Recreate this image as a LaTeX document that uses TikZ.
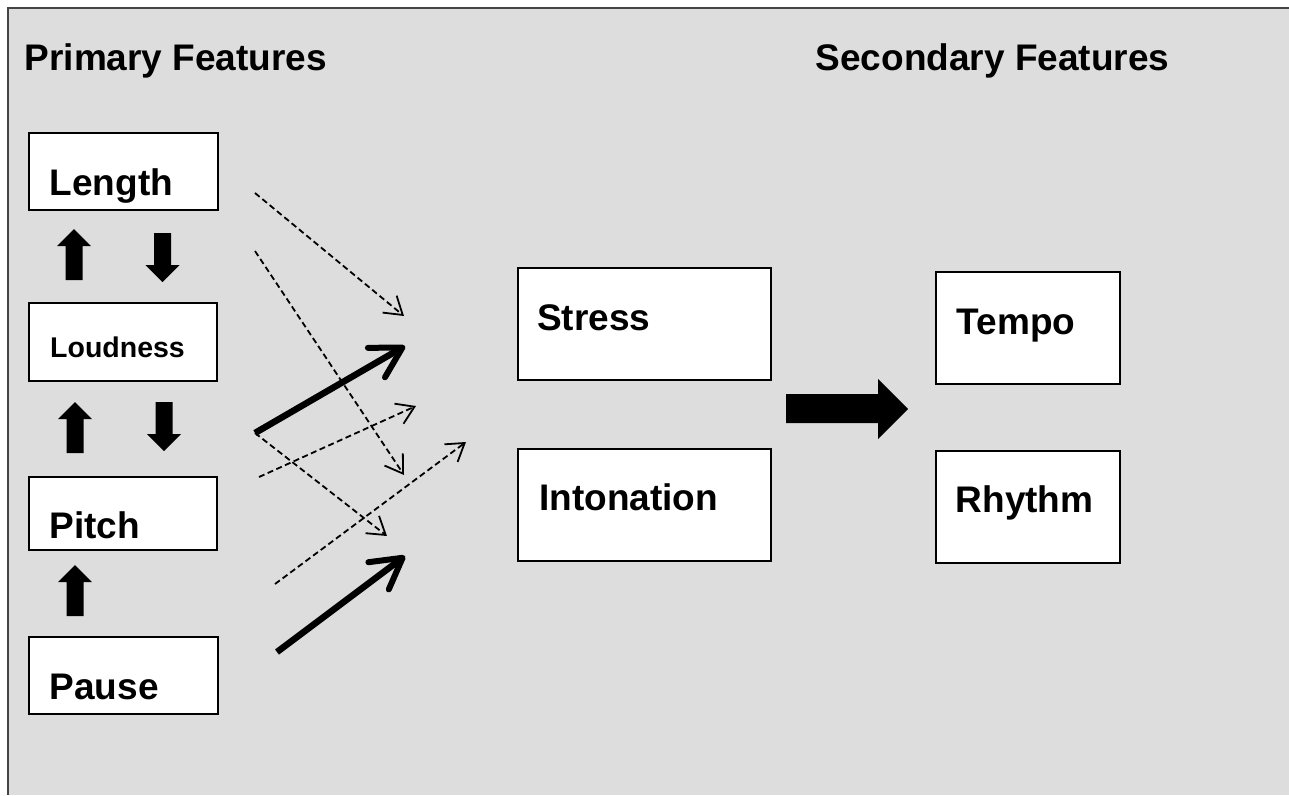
\documentclass[tikz,border=0pt]{standalone}
\usepackage{fontspec}
\setmainfont{Liberation Sans}
\usetikzlibrary{arrows.meta,fit}
\definecolor{bggray}{HTML}{DDDDDD}
\definecolor{frame}{HTML}{444444}
\tikzset{
  box/.style={draw=black, line width=1.8pt, fill=white, inner sep=0pt, rectangle},
  lbl/.style={anchor=base west, inner sep=0pt, font=\bfseries\fontsize{37}{40}\selectfont},
  smalllbl/.style={anchor=base west, inner sep=0pt, font=\bfseries\fontsize{28.5}{32}\selectfont},
  dasharrow/.style={line width=1.8pt, dash pattern=on 6pt off 3.5pt, -{Straight Barb[length=17pt,width=22pt,line width=1.8pt]}},
  thickarrow/.style={line width=6.5pt, -{Straight Barb[length=30pt,width=34pt,line width=6pt,round]}},
  blockup/.pic={\fill (0,0) -- (17,17) -- (8.5,17) -- (8.5,51) -- (-8.5,51) -- (-8.5,17) -- (-17,17) -- cycle;},
  blockdown/.pic={\fill (0,0) -- (17,-17) -- (8.5,-17) -- (8.5,-49) -- (-8.5,-49) -- (-8.5,-17) -- (-17,-17) -- cycle;}
}
\begin{document}
\begin{tikzpicture}[x=1pt,y=-1pt]
\useasboundingbox (0,0) rectangle (1289,795);
% background
\fill[bggray] (8,8) rectangle (1289,795);
\draw[frame, line width=2pt] (8,795) -- (8,8) -- (1289,8);
% titles
\node[lbl] (primary) at (24.5,70) {Primary Features};
\node[lbl] (secondary) at (815.5,70) {Secondary Features};
% left boxes
\node[box, fit={(29,133) (218,210)}] (length) {};
\node[lbl] (lengthtxt) at (49.5,195) {Length};
\node[box, fit={(29,303) (217,381)}] (loudness) {};
\node[smalllbl] (loudtxt) at (50,357) {Loudness};
\node[box, fit={(29,477) (217,550)}] (pitch) {};
\node[lbl] (pitchtxt) at (49.5,538) {Pitch};
\node[box, fit={(29,637) (218,714)}] (pause) {};
\node[lbl] (pausetxt) at (49.5,699) {Pause};
% middle boxes
\node[box, fit={(518,268) (771,380)}] (stress) {};
\node[lbl] (stresstxt) at (537,330) {Stress};
\node[box, fit={(518,449) (771,561)}] (intonation) {};
\node[lbl] (intotxt) at (539,510) {Intonation};
% right boxes
\node[box, fit={(936,272) (1120,384)}] (tempo) {};
\node[lbl] (tempotxt) at (956.5,334) {Tempo};
\node[box, fit={(936,451) (1120,563)}] (rhythm) {};
\node[lbl] (rhythmtxt) at (955.5,512) {Rhythm};
% block arrows between left boxes
\pic at (74,229) {blockup};
\pic at (162.5,282) {blockdown};
\pic at (75,402) {blockup};
\pic at (164,451) {blockdown};
\pic at (75,565) {blockup};
% big right arrow
\fill (786,394) -- (878,394) -- (878,379) -- (908,409) -- (878,439) -- (878,423) -- (786,423) -- cycle;
% connector end points
\coordinate (a1s) at (255,193); \coordinate (a1e) at (404,316);
\coordinate (a2s) at (255,251); \coordinate (a2e) at (404,475);
\coordinate (t1s) at (255,433); \coordinate (t1e) at (405,346);
\coordinate (a3s) at (259,477); \coordinate (a3e) at (416,406);
\coordinate (a4s) at (275,584); \coordinate (a4e) at (466,442);
\coordinate (a5e) at (387,536);
\coordinate (t2s) at (277,652); \coordinate (t2e) at (405,556);
% connectors
\draw[dasharrow] (a1s) -- (a1e);
\draw[dasharrow] (a2s) -- (a2e);
\draw[dasharrow] (a3s) -- (a3e);
\draw[dasharrow] (a4s) -- (a4e);
\draw[dasharrow] (t1s) -- (a5e);
\draw[thickarrow] (t1s) -- (t1e);
\draw[thickarrow] (t2s) -- (t2e);
\end{tikzpicture}
\end{document}
